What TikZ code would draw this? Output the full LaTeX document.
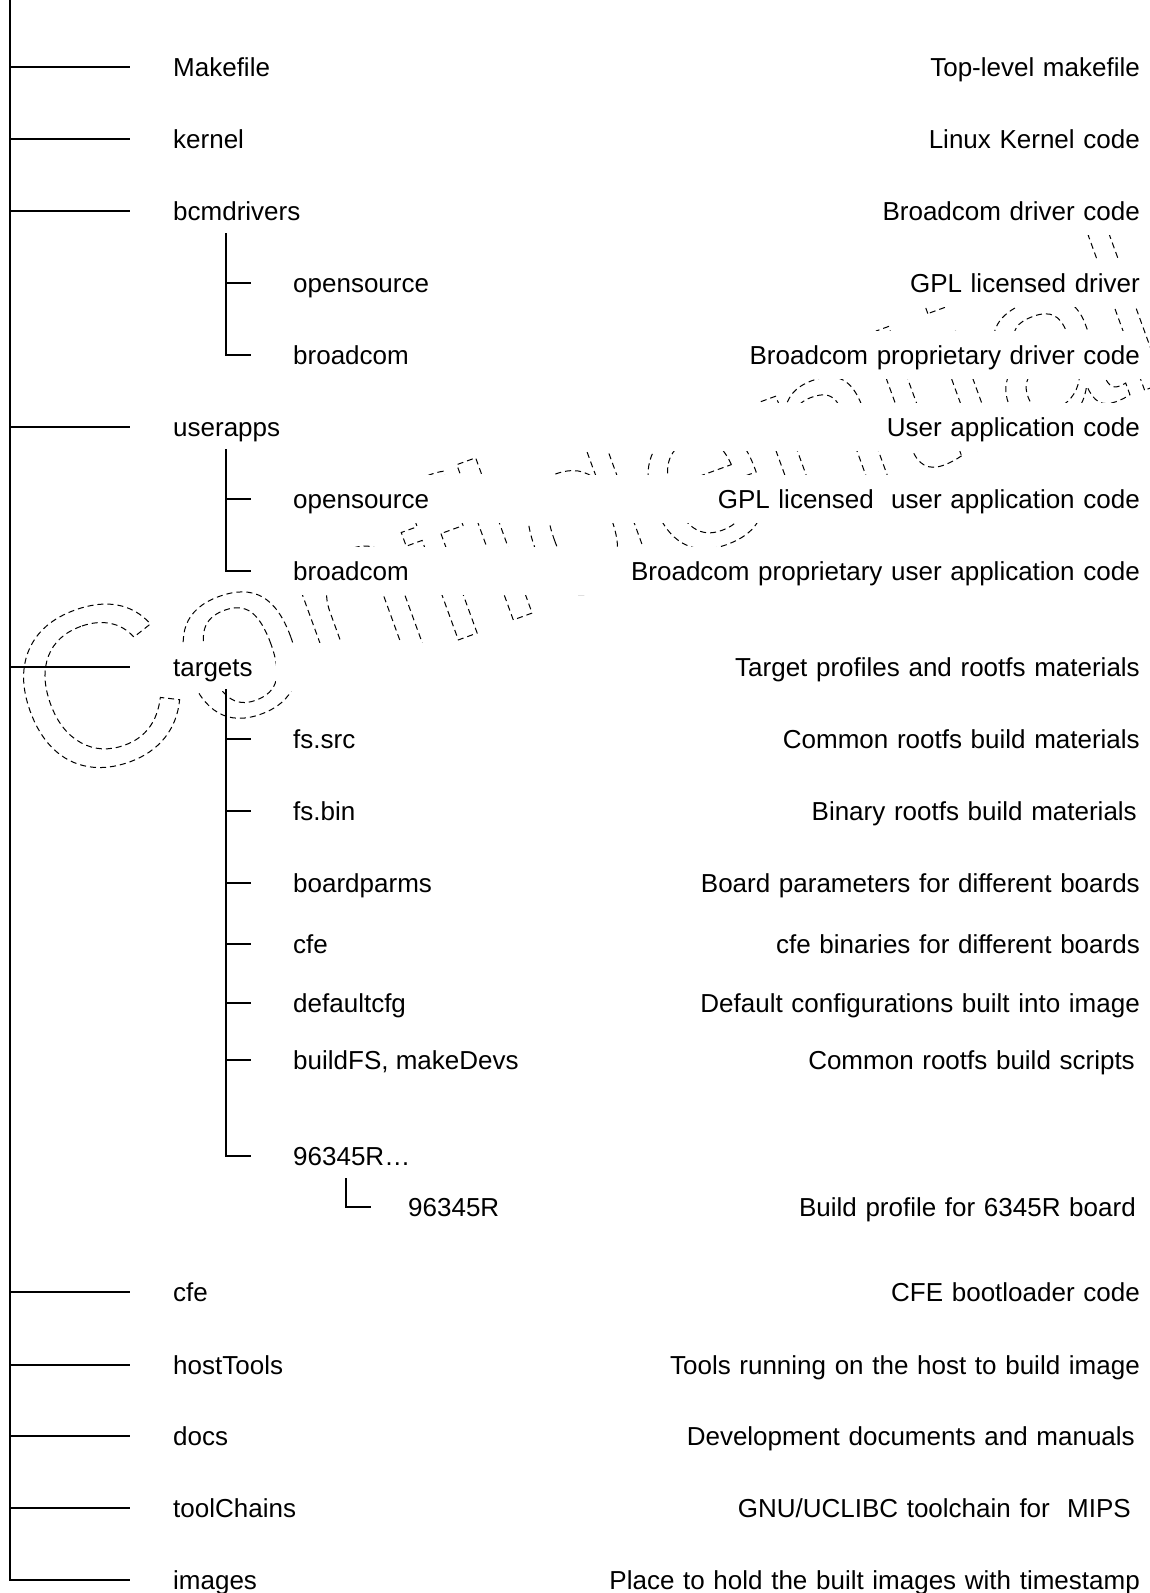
\documentclass[tikz,border=0pt]{standalone}
\usepackage{fontspec}
\setmainfont{Liberation Sans}

\newcommand{\outlinetext}[1]{\special{pdf:literal direct [6 4] 0 d 1 w 1 Tr}#1\special{pdf:literal direct 0 Tr [] 0 d}}

\begin{document}
\begin{tikzpicture}[x=1pt, y=-1pt,
    item/.style={anchor=west, fill=white, inner xsep=4pt, inner ysep=0pt,
      text height=33pt, text depth=15pt, font=\fontsize{26}{31}\selectfont},
    desc/.style={anchor=east, fill=white, inner xsep=4pt, inner ysep=0pt,
      text width=860pt, align=right,
      text height=33pt, text depth=15pt, font=\fontsize{26}{31}\selectfont},
    tree/.style={line width=1.6pt}]
             \useasboundingbox (0,0) rectangle (1149,1593);

             % watermark
             \begin{scope}[line width=1pt, dash pattern=on 6pt off 4pt]
             \node[rotate=20, anchor=base west, inner sep=0pt,
               font=\fontsize{228}{228}\selectfont] (mark) at (46,790)
               {\outlinetext{Confidential}};
             \end{scope}

             % descriptions
             \node[desc] (dmakefile) at (1144, 67) {Top-level makefile};
             \node[desc] (dkernel) at (1144, 139) {Linux Kernel code};
             \node[desc] (dbcmdrivers) at (1144, 211) {Broadcom driver code};
             \node[desc] (ddrvopen) at (1144, 283) {GPL licensed driver};
             \node[desc] (ddrvbcm) at (1144, 355) {Broadcom proprietary driver code};
             \node[desc] (duserapps) at (1144, 427) {User application code};
             \node[desc] (dappopen) at (1144, 499) {GPL licensed~ user application code};
             \node[desc] (dappbcm) at (1144, 571) {Broadcom proprietary user application code};
             \node[desc] (dtargets) at (1144, 667) {Target profiles and rootfs materials};
             \node[desc] (dfssrc) at (1144, 739) {Common rootfs build materials};
             \node[desc] (dfsbin) at (1141, 811) {Binary rootfs build materials};
             \node[desc] (dboardparms) at (1144, 883) {Board parameters for different boards};
             \node[desc] (dtcfe) at (1144, 944) {cfe binaries for different boards};
             \node[desc] (ddefcfg) at (1144, 1003) {Default configurations built into image};
             \node[desc] (dbuildfs) at (1139, 1060) {Common rootfs build scripts};
             \node[desc] (dprof6345) at (1140, 1207) {Build profile for 6345R board};
             \node[desc] (dcfe) at (1144, 1292) {CFE bootloader code};
             \node[desc] (dhosttools) at (1144, 1365) {Tools running on the host to build image};
             \node[desc] (ddocs) at (1139, 1436) {Development documents and manuals};
             \node[desc] (dtoolchains) at (1135, 1508) {GNU/UCLIBC toolchain for~ MIPS};
             \node[desc] (dimages) at (1144, 1580) {Place to hold the built images with timestamp};

             % top level
             \node[item] (makefile) at (169, 67) {Makefile};
             \node[item] (kernel) at (169, 139) {kernel};
             \node[item] (bcmdrivers) at (169, 211) {bcmdrivers};
             \node[item] (userapps) at (169, 427) {userapps};
             \node[item] (targets) at (169, 667) {targets};
             \node[item] (cfe) at (169, 1292) {cfe};
             \node[item] (hosttools) at (169, 1365) {hostTools};
             \node[item] (docs) at (169, 1436) {docs};
             \node[item] (toolchains) at (169, 1508) {toolChains};
             \node[item] (images) at (169, 1580) {images};

             % second level
             \node[item] (drvopen) at (289, 283) {opensource};
             \node[item] (drvbcm) at (289, 355) {broadcom};
             \node[item] (appopen) at (289, 499) {opensource};
             \node[item] (appbcm) at (289, 571) {broadcom};
             \node[item] (fssrc) at (289, 739) {fs.src};
             \node[item] (fsbin) at (289, 811) {fs.bin};
             \node[item] (boardparms) at (289, 883) {boardparms};
             \node[item] (tcfe) at (289, 944) {cfe};
             \node[item] (defcfg) at (289, 1003) {defaultcfg};
             \node[item] (buildfs) at (289, 1060) {buildFS, makeDevs};
             \node[item] (prof) at (289, 1156) {96345R…};
             \node[item] (prof6345) at (404, 1207) {96345R};

             % trunk
             \coordinate (root) at (10, 0);
             \draw[tree] (root |- makefile.west) -- ([xshift=-39pt]makefile.west);
             \draw[tree] (root |- kernel.west) -- ([xshift=-39pt]kernel.west);
             \draw[tree] (root |- bcmdrivers.west) -- ([xshift=-39pt]bcmdrivers.west);
             \draw[tree] (root |- userapps.west) -- ([xshift=-39pt]userapps.west);
             \draw[tree] (root |- targets.west) -- ([xshift=-39pt]targets.west);
             \draw[tree] (root |- cfe.west) -- ([xshift=-39pt]cfe.west);
             \draw[tree] (root |- hosttools.west) -- ([xshift=-39pt]hosttools.west);
             \draw[tree] (root |- docs.west) -- ([xshift=-39pt]docs.west);
             \draw[tree] (root |- toolchains.west) -- ([xshift=-39pt]toolchains.west);
             \draw[tree] (root) |- ([xshift=-39pt]images.west);

             % bcmdrivers
             \coordinate (drvfork) at (226, 233);
             \draw[tree] (drvfork |- drvopen.west) -- ([xshift=-38pt]drvopen.west);
             \draw[tree] (drvfork) |- ([xshift=-38pt]drvbcm.west);

             % userapps
             \coordinate (appfork) at (226, 449);
             \draw[tree] (appfork |- appopen.west) -- ([xshift=-38pt]appopen.west);
             \draw[tree] (appfork) |- ([xshift=-38pt]appbcm.west);

             % targets
             \coordinate (tgtfork) at (226, 689);
             \draw[tree] (tgtfork |- fssrc.west) -- ([xshift=-38pt]fssrc.west);
             \draw[tree] (tgtfork |- fsbin.west) -- ([xshift=-38pt]fsbin.west);
             \draw[tree] (tgtfork |- boardparms.west) -- ([xshift=-38pt]boardparms.west);
             \draw[tree] (tgtfork |- tcfe.west) -- ([xshift=-38pt]tcfe.west);
             \draw[tree] (tgtfork |- defcfg.west) -- ([xshift=-38pt]defcfg.west);
             \draw[tree] (tgtfork |- buildfs.west) -- ([xshift=-38pt]buildfs.west);
             \draw[tree] (tgtfork) |- ([xshift=-38pt]prof.west);

             % profile
             \coordinate (proffork) at (346, 1178);
             \draw[tree] (proffork) |- ([xshift=-33pt]prof6345.west);
\end{tikzpicture}
\end{document}
